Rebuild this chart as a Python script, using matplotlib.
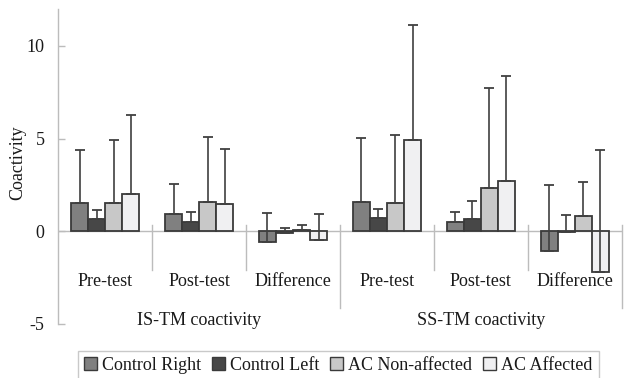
import matplotlib
matplotlib.use("Agg")
import matplotlib.pyplot as plt
import numpy as np
from matplotlib.patches import Patch

categories = ["Pre-test", "Post-test", "Difference", "Pre-test", "Post-test", "Difference"]
groups = ["IS-TM coactivity", "SS-TM coactivity"]
series = ["Control Right", "Control Left", "AC Non-affected", "AC Affected"]

control_right = [1.50, 0.94, -0.58, 1.55, 0.50, -1.06]
control_left = [0.63, 0.50, -0.09, 0.69, 0.63, -0.05]
ac_nonaffected = [1.50, 1.55, 0.07, 1.50, 2.34, 0.81]
ac_affected = [1.98, 1.44, -0.49, 4.92, 2.70, -2.20]

control_right_err = [2.86, 1.58, 1.57, 3.46, 0.54, 3.53]
control_left_err = [0.52, 0.54, 0.23, 0.48, 0.97, 0.91]
ac_nonaffected_err = [3.42, 3.51, 0.25, 3.67, 5.41, 1.84]
ac_affected_err = [4.31, 2.99, 1.41, 6.23, 5.68, 6.58]

yticks = [-5, 0, 5, 10]

plt.rcParams['font.family'] = ['Liberation Serif', 'DejaVu Serif']
FS = 13
TXT = "#1a1a1a"

fig = plt.figure(figsize=(6.29, 3.78), dpi=100)
W, H = 629, 378
ax = fig.add_axes([58.3 / W, 1 - 323.5 / H, (621.7 - 58.3) / W, (323.5 - 9) / H])

vals = [control_right, control_left, ac_nonaffected, ac_affected]
errs = [control_right_err, control_left_err, ac_nonaffected_err, ac_affected_err]
colors = ["#808080", "#474747", "#c8c8c8", "#f0f0f2"]
edge = "#3a3a3a"
grid = "#bcbcbc"

x = np.arange(len(categories))
w = 1 / 5.5
for i, (v, e, c) in enumerate(zip(vals, errs, colors)):
    pos = x + (i - 1.5) * w
    ax.bar(pos, v, width=w, color=c, edgecolor=edge, linewidth=1.3, zorder=2)
    ax.errorbar(pos, v, yerr=[np.zeros(len(v)), e], fmt='none', ecolor="#404040",
                elinewidth=1.2, capsize=3.3, capthick=1.3, zorder=3)

ax.set_xlim(-0.5, 5.5)
ax.set_ylim(-5, 12)
ax.set_yticks(yticks)
ax.set_yticklabels([str(t) for t in yticks], fontsize=FS, color=TXT)
ax.tick_params(axis='y', direction='in', length=5, color=grid, pad=10, width=1)
ax.set_xticks([])
for s in ['top', 'right', 'bottom']:
    ax.spines[s].set_visible(False)
ax.spines['left'].set_color(grid)
ax.spines['left'].set_linewidth(1)

ax.axhline(0, color=grid, linewidth=1, zorder=1)

# category separators
for b in [0.5, 1.5, 3.5, 4.5]:
    ax.plot([b, b], [0.32, -2.1], color=grid, linewidth=1, clip_on=False, zorder=1)
for b in [2.5, 5.5]:
    ax.plot([b, b], [0.32, -4.16], color=grid, linewidth=1, clip_on=False, zorder=1)

for xi, lab in zip(x, categories):
    ax.text(xi, -2.74, lab, ha='center', va='center', fontsize=FS, color=TXT)
for gx, lab in zip([1, 4], groups):
    ax.text(gx, -4.85, lab, ha='center', va='center', fontsize=FS, color=TXT)

ax.text(-0.0715, (3.68 + 5) / 17, "Coactivity", rotation=90, ha='center', va='center',
        fontsize=FS, transform=ax.transAxes, color=TXT)

handles = [Patch(facecolor=c, edgecolor=edge, linewidth=1.0) for c in colors]
leg = fig.legend(handles, series, loc='upper left', bbox_to_anchor=(77.7 / W, 1 - 350.7 / H),
                 ncol=4, fontsize=FS, frameon=True, fancybox=False, handlelength=0.7,
                 handleheight=0.7, handletextpad=0.3, columnspacing=0.6, borderpad=0.35,
                 borderaxespad=0, labelcolor=TXT)
leg.get_frame().set_edgecolor(grid)
leg.get_frame().set_linewidth(1)

fig.savefig("out.png", dpi=100)
